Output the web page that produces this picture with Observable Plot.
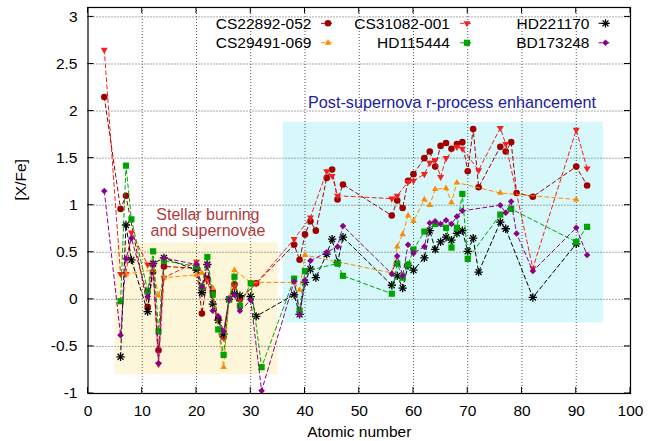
<!DOCTYPE html>
<html><head><meta charset="utf-8">
<script src="https://cdn.jsdelivr.net/npm/d3@7"></script>
<script src="https://cdn.jsdelivr.net/npm/@observablehq/plot@0.6"></script>
<style>
body{margin:0;background:#fff}
#chart svg{display:block}
</style>
</head><body><div id="chart"></div>
<script>
// ---------------- data ----------------
const starNames = ["CS22892-052","CS31082-001","HD221170","CS29491-069","HD115444","BD173248"];

const cs22892_z = [3,6,7,11,12,13,14,20,21,22,23,24,25,26,27,28,31,38,39,40,41,42,44,45,46,47,56,57,58,59,60,62,63,64,65,66,67,68,69,70,71,72,76,77,78,79,82,90,92];
const cs22892_v = [2.15,0.96,1.10,-0.08,0.29,-0.54,0.35,0.33,-0.15,0.22,0.08,-0.20,-0.40,0,0.16,0.0,0.17,0.58,0.42,0.69,0.83,0.73,1.29,1.38,1.06,1.22,0.89,1.05,0.97,1.26,1.33,1.50,1.57,1.41,1.63,1.66,1.60,1.65,1.67,1.36,1.81,1.19,1.62,1.57,1.67,1.13,1.09,1.41,1.21];

const cs31082_z = [3,6,7,8,11,12,13,14,20,22,25,26,27,28,31,38,41,44,45,46,56,57,59,60,62,63,64,65,66,68,69,72,76,77,82,90,92];
const cs31082_v = [2.65,0.27,0.27,0.71,0.37,0.35,-0.69,0.23,0.40,0.20,-0.41,0,0.14,0.0,0.17,0.64,0.87,1.36,1.31,1.10,1.07,1.10,1.25,1.26,1.33,1.45,1.48,1.30,1.50,1.62,1.60,1.37,1.82,1.65,0.33,1.80,1.39];

const hd221170_z = [6,7,8,11,12,14,20,21,22,23,24,25,26,27,28,30,31,38,39,40,41,42,44,45,46,47,56,57,58,59,60,62,63,64,65,66,67,68,69,70,71,72,76,77,82,90];
const hd221170_v = [-0.61,0.79,0.42,-0.13,0.38,0.44,0.31,0.07,0.37,-0.05,-0.22,-0.37,0,0.06,0.04,0.03,-0.18,0.05,-0.16,0.18,0.32,0.23,0.48,0.64,0.39,0.66,0.15,0.25,0.12,0.36,0.31,0.44,0.73,0.53,0.61,0.66,0.63,0.70,0.73,0.51,0.65,0.29,0.82,0.75,0.02,0.59];

const cs29491_z = [7,12,13,14,20,21,23,25,26,27,30,38,39,40,56,57,58,59,60,62,63,64,66,67,68,76,90];
const cs29491_v = [0.27,0.31,0.04,0.23,0.26,0.28,0.12,-0.72,0,0.31,0.18,0.18,0.10,0.47,0.28,0.56,0.69,0.89,0.83,1.06,1.00,1.17,1.18,1.03,1.24,1.13,1.06];

const hd115444_z = [6,7,8,11,12,13,14,20,21,22,23,24,25,26,27,28,30,32,38,39,40,46,47,56,57,58,59,60,62,64,66,67,68,69,70,76,78,90,92];
const hd115444_v = [-0.02,1.42,0.85,0.09,0.51,-0.34,0.41,0.35,0.13,0.45,0.05,-0.32,-0.59,0,0.24,-0.07,0.17,-0.72,0.22,-0.12,0.30,0.38,0.25,0.06,0.38,0.23,0.37,0.53,0.72,0.80,0.76,0.55,0.76,1.12,0.43,0.90,0.96,0.61,0.77];

const bd173248_z = [3,6,7,8,11,12,13,14,20,21,22,23,24,25,26,27,28,30,32,38,39,40,41,44,46,47,56,57,58,59,60,62,63,64,65,66,67,68,69,76,77,78,79,82,90,92];
const bd173248_v = [1.15,-0.38,0.43,0.65,0.03,0.38,-0.68,0.44,0.37,0.13,0.37,-0.12,-0.18,-0.34,0,0.05,-0.12,-0.01,-0.97,0.19,-0.16,0.20,0.41,0.50,0.56,0.78,0.27,0.46,0.25,0.58,0.49,0.56,0.81,0.83,0.80,0.84,0.80,0.88,0.94,1.00,0.92,1.04,0.70,0.30,0.76,0.47];

// shaded regions (data units)
const regionLabels = ["Stellar burning\nand supernovae", "Post-supernova r-process enhancement"];
const regionX1 = [5, 36];
const regionX2 = [35, 95];
const regionY1 = [-0.8, -0.25];
const regionY2 = [0.6, 1.88];
const regionLabelX = [22.1, 67.1];
const regionLabelY = [0.81, 2.09];

const xTicks = [0,10,20,30,40,50,60,70,80,90,100];
const xTickLabels = ["0","10","20","30","40","50","60","70","80","90","100"];
const yTicks = [-1,-0.5,0,0.5,1,1.5,2,2.5,3];
const yTickLabels = ["-1","-0.5","0","0.5","1","1.5","2","2.5","3"];

// ---------------- styles ----------------
const FONT = "'Liberation Sans', Arial, Helvetica, sans-serif";
const series = [
  {name: starNames[0], z: cs22892_z, v: cs22892_v, color: "#a00000", symbols: ["circle"], r: 3.3, rotate: 0},
  {name: starNames[1], z: cs31082_z, v: cs31082_v, color: "#f42020", symbols: ["triangle"], r: 2.6, rotate: 180},
  {name: starNames[2], z: hd221170_z, v: hd221170_v, color: "#000000", symbols: ["plus","times"], r: 2.8, rotate: 0, stroked: true},
  {name: starNames[3], z: cs29491_z, v: cs29491_v, color: "#ff8a00", symbols: ["triangle"], r: 2.4, rotate: 0},
  {name: starNames[4], z: hd115444_z, v: hd115444_v, color: "#00a400", symbols: ["square"], r: 3.5, rotate: 0},
  {name: starNames[5], z: bd173248_z, v: bd173248_v, color: "#8b008b", symbols: ["square"], r: 2.6, rotate: 45}
];
const regionFill = ["#fdf6d8", "#d6f8fa"];
const regionText = ["#b23a3c", "#2020a0"];

const rows = s => s.z.map((z, i) => ({star: s.name, z, v: s.v[i]}));
const regions = regionX1.map((x1, i) => ({x1, x2: regionX2[i], y1: regionY1[i], y2: regionY2[i], i}));

const seriesMarks = series.flatMap(s => {
  const d = rows(s);
  const m = [Plot.line(d, {x: "z", y: "v", stroke: s.color, strokeWidth: 1, strokeDasharray: "4,3"})];
  s.symbols.forEach(sym => {
    m.push(Plot.dot(d, s.stroked
      ? {x: "z", y: "v", symbol: sym, r: s.r, stroke: s.color, strokeWidth: 1.3, fill: "none"}
      : {x: "z", y: "v", symbol: sym, r: s.r, fill: s.color, stroke: "none", rotate: s.rotate}));
  });
  return m;
});

const chart = Plot.plot({
  width: 660,
  height: 441,
  marginLeft: 87.5,
  marginRight: 30,
  marginTop: 7,
  marginBottom: 48,
  style: {fontFamily: FONT, fontSize: "15.5px", color: "#000", background: "#fff", overflow: "visible"},
  x: {domain: [0, 100], label: null},
  y: {domain: [-1, 3.1], label: null},
  marks: [
    Plot.rect(regions, {x1: "x1", x2: "x2", y1: "y1", y2: "y2", fill: d => regionFill[d.i]}),
    Plot.gridX(xTicks.slice(1, -1), {stroke: "#555", strokeOpacity: 1, strokeDasharray: "1,2"}),
    Plot.gridY(yTicks.slice(1), {stroke: "#555", strokeOpacity: 1, strokeDasharray: "1,2"}),
    Plot.text([0], {x: () => regionLabelX[0], y: () => regionLabelY[0], text: () => regionLabels[0],
      fill: regionText[0], fontSize: 16, lineHeight: 0.98, textAnchor: "middle", lineAnchor: "middle"}),
    Plot.text([1], {x: () => regionLabelX[1], y: () => regionLabelY[1], text: () => regionLabels[1],
      fill: regionText[1], fontSize: 16.2, textAnchor: "middle", lineAnchor: "middle"}),
    ...seriesMarks,
    Plot.axisX({ticks: xTicks, tickSize: 0, tickPadding: 11, tickFormat: d => xTickLabels[xTicks.indexOf(d)], label: null, fontSize: 15.5}),
    Plot.axisY({ticks: yTicks, tickSize: 0, tickPadding: 10.5, tickFormat: d => yTickLabels[yTicks.indexOf(d)], label: null, fontSize: 15.5}),
    Plot.frame({stroke: "#000", strokeWidth: 1.2}),
    Plot.text(["Atomic number"], {frameAnchor: "bottom", dy: 39, text: d => d, fontSize: 15.5, lineAnchor: "middle"}),
    Plot.text(["[X/Fe]"], {frameAnchor: "left", dx: -67, text: d => d, fontSize: 15.5, rotate: -90, lineAnchor: "middle"})
  ]
});
document.getElementById("chart").appendChild(chart);

// inward ticks on all four sides, placed through the plot's scales
const sx = chart.scale("x"), sy = chart.scale("y");
const svg = d3.select(chart);
const [X0, X1] = sx.range, [Y0, Y1] = sy.range; // Y0 bottom, Y1 top
const tickG = svg.append("g").attr("stroke", "#000").attr("stroke-width", 1);
const TL = 6;
xTicks.forEach(t => {
  const px = sx.apply(t);
  tickG.append("line").attr("x1", px).attr("x2", px).attr("y1", Y0).attr("y2", Y0 - TL);
  tickG.append("line").attr("x1", px).attr("x2", px).attr("y1", Y1).attr("y2", Y1 + TL);
});
yTicks.forEach(t => {
  const py = sy.apply(t);
  tickG.append("line").attr("x1", X0).attr("x2", X0 + TL).attr("y1", py).attr("y2", py);
  tickG.append("line").attr("x1", X1).attr("x2", X1 - TL).attr("y1", py).attr("y2", py);
});

// legend (inside the top of the frame, 3 columns x 2 rows)
const legendTextRight = [311.5, 450, 589.5];
const legendMarkerX = [328, 467, 605.5];
const legendRowY = [23.3, 42.8];
const symTypes = {circle: d3.symbolCircle, triangle: d3.symbolTriangle, square: d3.symbolSquare, diamond: d3.symbolDiamond, plus: d3.symbolPlus, times: d3.symbolTimes};
const lg = svg.append("g").attr("font-family", FONT).attr("font-size", 15.5);
series.forEach((s, i) => {
  const col = i % 3, row = Math.floor(i / 3);
  const y = legendRowY[row], mx = legendMarkerX[col];
  lg.append("text").attr("x", legendTextRight[col]).attr("y", y).attr("dy", "0.35em")
    .attr("text-anchor", "end").attr("fill", "#000").text(s.name);
  lg.append("line").attr("x1", mx - 7).attr("x2", mx + 7).attr("y1", y).attr("y2", y)
    .attr("stroke", s.color).attr("stroke-width", 1).attr("stroke-dasharray", "4,3");
  s.symbols.forEach(sym => {
    const p = lg.append("path").attr("d", d3.symbol(symTypes[sym], s.r * s.r * Math.PI)())
      .attr("transform", `translate(${mx},${y}) rotate(${s.rotate})`);
    if (s.stroked) p.attr("fill", "none").attr("stroke", s.color).attr("stroke-width", 1.3);
    else p.attr("fill", s.color);
  });
});
</script>
</body></html>
